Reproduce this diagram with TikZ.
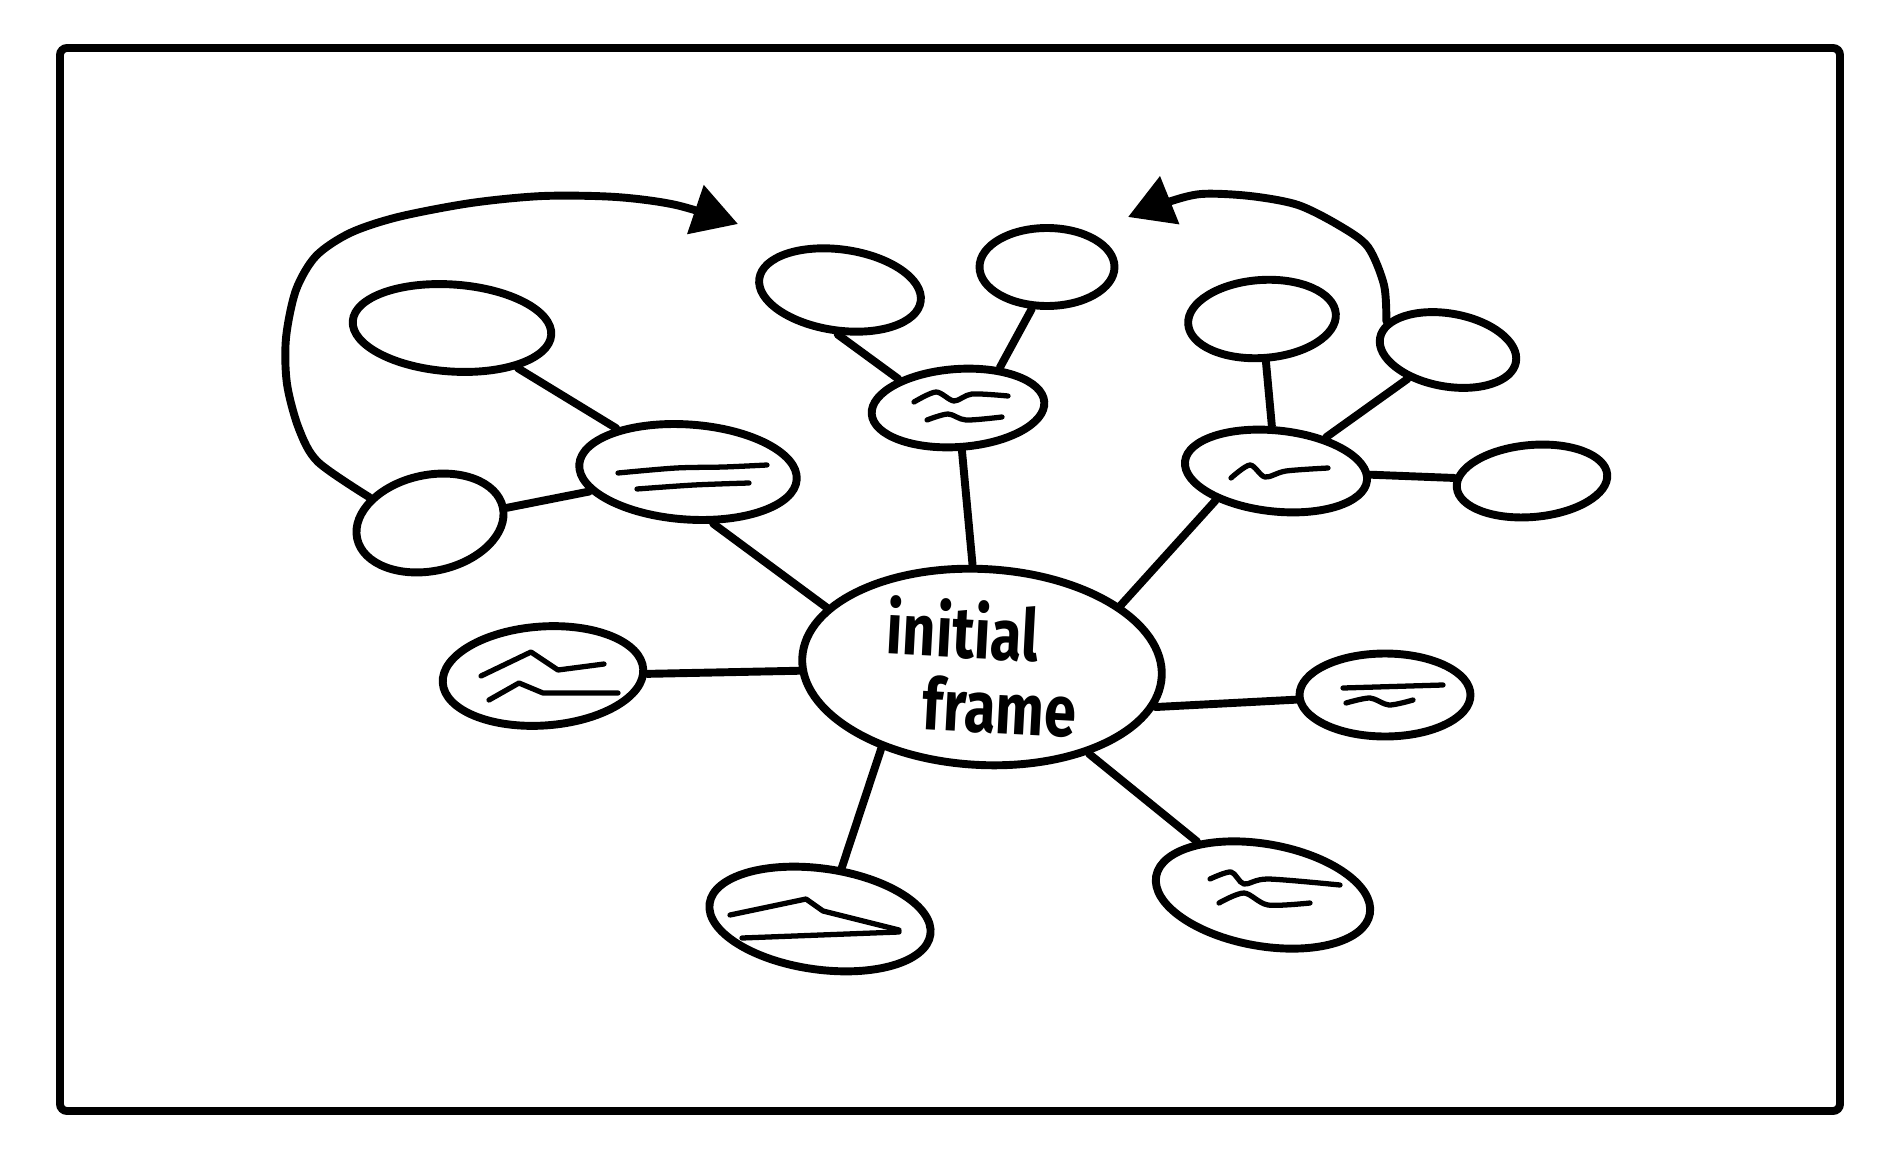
\documentclass[tikz,border=0pt]{standalone}
\usepackage{fontspec}
\newfontfamily\handfont[FakeStretch=0.8]{Fira Sans}
\usepackage{tikz}
\usetikzlibrary{arrows.meta, shapes.geometric, calc, backgrounds}
\tikzset{
  bubble/.style={ellipse,draw,line width=4.5pt,inner sep=0pt,fill=white},
  sz/.style 2 args={minimum width=#1cm,minimum height=#2cm},
  link/.style={line width=4.5pt,line cap=round},
  scribble/.style={line width=3pt,line cap=round,line join=round},
  loop arrow/.style={line width=4.5pt,line cap=round,-{Triangle[length=0.9cm,width=1.0cm]}},
}

\begin{document}
\begin{tikzpicture}[x=0.02cm,y=-0.02cm]
  \useasboundingbox (0,0) rectangle (1893,1159);
  % outer frame
  \draw[line width=4.5pt,rounded corners=4pt] (60,48) rectangle (1840,1111);
  % centre
  \node[bubble,sz={7.2}{3.92},rotate=-3,align=left,font=\handfont\bfseries\fontsize{41}{42}\selectfont] (init) at (982,667) {initial\\\hspace*{0.8cm}frame};
  % first ring
  \node[bubble,sz={4.36}{1.9},rotate=-4] (c1) at (688,472) {};
  \node[bubble,sz={4.02}{1.98},rotate=4] (c2) at (543,676) {};
  \node[bubble,sz={4.46}{2.02},rotate=-8] (c3) at (820,919) {};
  \node[bubble,sz={4.34}{2.04},rotate=-10] (c4) at (1263,895) {};
  \node[bubble,sz={3.42}{1.66}] (c5) at (1385,695) {};
  \node[bubble,sz={3.66}{1.62},rotate=-6] (c6) at (1276,471) {};
  \node[bubble,sz={3.46}{1.56},rotate=4] (c7) at (958,408) {};
  % second ring
  \node[bubble,sz={3.98}{1.74},rotate=-4] (g1) at (452,328) {};
  \node[bubble,sz={2.98}{1.92},rotate=12] (g2) at (430,523) {};
  \node[bubble,sz={3.26}{1.62},rotate=-8] (g3) at (840,290) {};
  \node[bubble,sz={2.7}{1.56}] (g4) at (1047,267) {};
  \node[bubble,sz={2.96}{1.56},rotate=4] (g5) at (1262,319) {};
  \node[bubble,sz={2.76}{1.46},rotate=-10] (g6) at (1448,350) {};
  \node[bubble,sz={3.02}{1.44},rotate=5] (g7) at (1532,481) {};
  % spokes
  \begin{scope}[on background layer]
  \draw[link] (c1.300) -- (init.162);
  \draw[link] (init) -- (c2);
  \draw[link] (init.222) -- (c3.75);
  \draw[link] (init) -- (c4);
  \draw[link] (init.350) -- (c5.183);
  \draw[link] (init.27) -- (c6.212);
  \draw[link] (init) -- (c7);
  \draw[link] (g1) -- (c1);
  \draw[link] (g2) -- (c1);
  \draw[link] (g3.275) -- (c7.150);
  \draw[link] (g4.250) -- (c7.40);
  \draw[link] (g5) -- (c6);
  \draw[link] (g6) -- (c6.40);
  \draw[link] (g7) -- (c6);
  \end{scope}
  % looping arrows
  \draw[loop arrow] plot[smooth] coordinates {(g2.145) (318,462) (299,429) (287,384) (286,338) (296,290) (316,256) (350,233) (398,217) (471,203) (543,196) (616,197) (676,205) (738,224)};
  \draw[loop arrow] plot[smooth] coordinates {(g6.165) (1384,285) (1368,247) (1340,226) (1298,205) (1250,196) (1201,194) (1165,203) (1128,217)};
  % scribbles
  \draw[scribble] plot[smooth] coordinates {(618,473) (676,468) (724,467) (767,465)};
  \draw[scribble] plot[smooth] coordinates {(637,489) (694,485) (749,483)};
  \draw[scribble] (481,676) -- (531,652) -- (558,670) -- (604,664);
  \draw[scribble] (489,700) -- (519,683) -- (543,693) -- (618,693);
  \draw[scribble] (730,915) -- (806,899) -- (823,911) -- (899,930);
  \draw[scribble] (742,938) -- (899,932);
  \draw[scribble] plot[smooth] coordinates {(1210,879) (1231,872) (1244,884) (1268,879) (1340,885)};
  \draw[scribble] plot[smooth] coordinates {(1219,903) (1244,893) (1268,905) (1310,903)};
  \draw[scribble] (1343,688) -- (1443,685);
  \draw[scribble] plot[smooth] coordinates {(1346,703) (1370,698) (1389,705) (1413,700)};
  \draw[scribble] plot[smooth] coordinates {(1231,478) (1250,465) (1265,477) (1286,471) (1328,468)};
  \draw[scribble] plot[smooth] coordinates {(914,402) (936,392) (954,401) (972,394) (1008,396)};
  \draw[scribble] plot[smooth] coordinates {(927,420) (948,414) (966,420) (1002,417)};
\end{tikzpicture}
\end{document}
